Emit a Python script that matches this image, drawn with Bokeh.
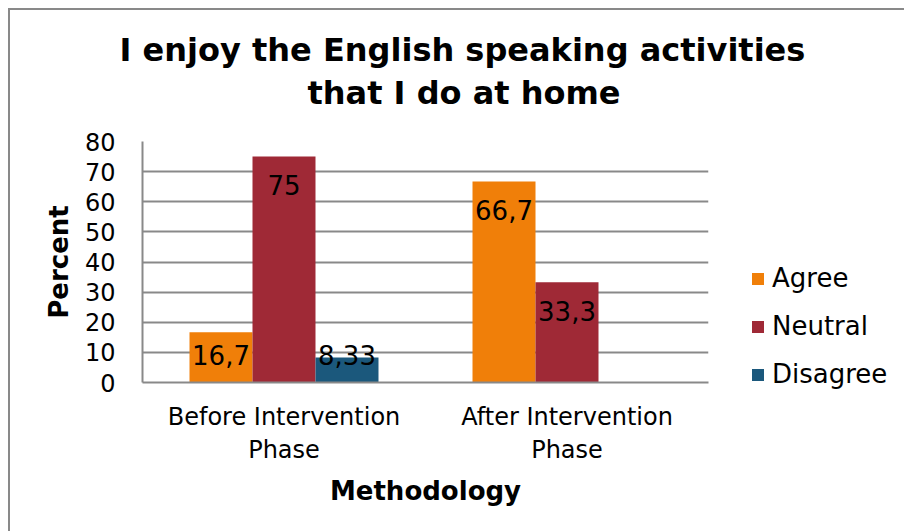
from bokeh.plotting import figure
from bokeh.models import ColumnDataSource, Legend, LegendItem, Title, FactorRange
from bokeh.core.properties import value
from bokeh.transform import dodge
from bokeh.embed import file_html
from bokeh.resources import INLINE

categories = ["Before Intervention\nPhase", "After Intervention\nPhase"]
series = ["Agree", "Neutral", "Disagree"]
agree = [16.7, 66.7]
neutral = [75, 33.3]
disagree = [8.33, 0]
agree_labels = ["16,7", "66,7"]
neutral_labels = ["75", "33,3"]
disagree_labels = ["8,33", ""]
colors = ["#F07F09", "#9F2936", "#1B587C"]
y_ticks = [0, 10, 20, 30, 40, 50, 60, 70, 80]
title_lines = ["I enjoy the English speaking activities", "that I do at home"]

p = figure(x_range=FactorRange(*categories), y_range=(0, 80),
           frame_width=566, frame_height=241,
           output_backend="svg", toolbar_location=None,
           min_border_left=132, min_border_right=196, min_border_top=131, min_border_bottom=149)
p.styles = {"margin-left": "8px", "margin-top": "8px",
            "border-left": "2px solid #898989", "border-top": "2px solid #898989"}
p.outline_line_color = None
p.background_fill_color = "white"
p.border_fill_color = "white"

bw = 0.2226
offsets = [-bw, 0, bw]
vals = [agree, neutral, disagree]
labs = [agree_labels, neutral_labels, disagree_labels]
renderers = []
for name, off, v, lab, c in zip(series, offsets, vals, labs, colors):
    ly = [max(val - 9.6, 9.0) for val in v]
    src = ColumnDataSource(dict(x=categories, top=v, ly=ly, lab=lab))
    r = p.vbar(x=dodge("x", off, range=p.x_range), top="top", width=bw, source=src,
               fill_color=c, line_color=None)
    renderers.append(r)
    p.text(x=dodge("x", off, range=p.x_range), y="ly", text="lab", source=src,
           text_align="center", text_baseline="middle", text_font=value("DejaVu Sans"),
           text_font_size="26px", text_color="black")

# axes
p.yaxis.ticker = y_ticks
p.yaxis.major_tick_line_color = None
p.yaxis.minor_tick_line_color = None
p.yaxis.axis_line_color = "#898989"
p.yaxis.axis_line_width = 2
p.yaxis.major_label_text_font = "DejaVu Sans"
p.yaxis.major_label_text_font_size = "24px"
p.yaxis.major_label_text_color = "black"
p.yaxis.major_label_standoff = 21
p.yaxis.axis_label = "Percent"
p.yaxis.axis_label_text_font = "DejaVu Sans"
p.yaxis.axis_label_text_font_style = "bold"
p.yaxis.axis_label_text_font_size = "26px"
p.yaxis.axis_label_text_color = "black"
p.yaxis.axis_label_standoff = 8

p.xaxis.major_tick_line_color = None
p.xaxis.minor_tick_line_color = None
p.xaxis.axis_line_color = "#898989"
p.xaxis.axis_line_width = 2
p.xaxis.major_label_text_font = "DejaVu Sans"
p.xaxis.major_label_text_font_size = "24px"
p.xaxis.major_label_text_color = "black"
p.xaxis.major_label_standoff = 14
p.xaxis.axis_label = "Methodology"
p.xaxis.axis_label_text_font = "DejaVu Sans"
p.xaxis.axis_label_text_font_style = "bold"
p.xaxis.axis_label_text_font_size = "26px"
p.xaxis.axis_label_text_color = "black"
p.xaxis.axis_label_standoff = 9

p.xgrid.grid_line_color = None
p.ygrid.grid_line_color = "#898989"
p.ygrid.grid_line_width = 2

legend = Legend(items=[LegendItem(label=s, renderers=[r]) for s, r in zip(series, renderers)],
                location=(42, -7), padding=0, margin=0, border_line_color=None,
                background_fill_alpha=0, glyph_width=15, glyph_height=15,
                label_height=24, spacing=18, label_standoff=7,
                label_text_font="DejaVu Sans", label_text_font_size="26px",
                label_text_color="black")
p.add_layout(legend, "right")

# spacer between frame and title (closest to frame)
p.add_layout(Title(text=" ", standoff=24, text_font_size="1px"), "above")
for txt, so, off in [(title_lines[1], 6, 165), (title_lines[0], 0, -23)]:
    p.add_layout(Title(text=txt, align="left", offset=off, standoff=so,
                       text_font="DejaVu Sans", text_font_style="bold",
                       text_font_size="32px", text_color="black"), "above")

open("out.html", "w").write(file_html(p, INLINE))
